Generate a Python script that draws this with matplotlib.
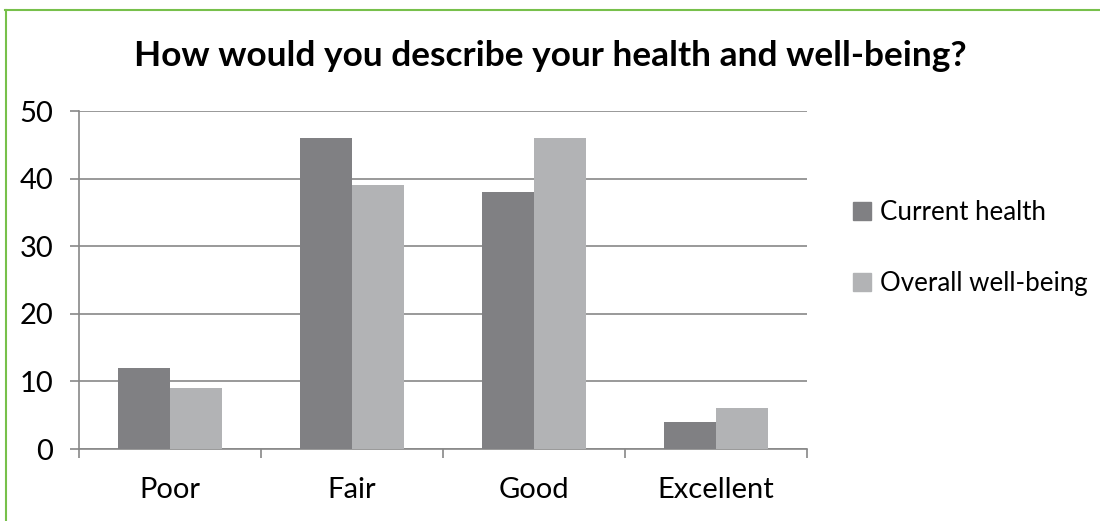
import numpy as np
import matplotlib.pyplot as plt
from matplotlib.lines import Line2D
from matplotlib.patches import Patch

categories = ['Poor', 'Fair', 'Good', 'Excellent']
current_health = [12, 46, 38, 4]
overall_wellbeing = [9, 39, 46, 6]

plt.rcParams['font.family'] = ['Lato', 'DejaVu Sans']

fig = plt.figure(figsize=(11, 5.21), dpi=100)
ax = fig.add_axes([79/1100, 1 - 449/521, 728/1100, 338/521])

x = np.arange(len(categories))
w = 0.285
ax.bar(x - w/2, current_health, w, color='#808083', zorder=3)
ax.bar(x + w/2, overall_wellbeing, w, color='#b2b3b5', zorder=3)

ax.set_xlim(-0.5, 3.5)
ax.set_ylim(0, 50)
ax.set_yticks(range(0, 51, 10))
ax.yaxis.grid(True, color='#888888', linewidth=1.2, zorder=0)
for s in ['top', 'right']:
    ax.spines[s].set_visible(False)
for s in ['left', 'bottom']:
    ax.spines[s].set_color('#888888')
    ax.spines[s].set_linewidth(1.2)

ax.set_xticks(x)
ax.set_xticklabels(categories)
ax.set_xticks(np.arange(-0.5, 4, 1), minor=True)
ax.tick_params(axis='x', which='major', length=0, pad=20, labelsize=21)
ax.tick_params(axis='x', which='minor', length=6.5, width=1.2, color='#888888')
ax.tick_params(axis='y', length=6.5, width=1.2, color='#888888', labelsize=21, pad=12)

fig.text(0.5, 1 - 56/521, 'How would you describe your health and well-being?',
         ha='center', va='center', fontsize=25.4, fontweight='bold')

handles = [Patch(color='#808083', label='Current health'),
           Patch(color='#b2b3b5', label='Overall well-being')]
fig.legend(handles=handles, loc='center left', bbox_to_anchor=(830/1100, 1 - 248/521),
           frameon=False, fontsize=18.6, handlelength=0.7, handleheight=0.7,
           handletextpad=0.35, labelspacing=1.75)

fig.add_artist(Line2D([5/1100, 1], [1 - 9.5/521, 1 - 9.5/521], color='#77c04b', linewidth=1.5))
fig.add_artist(Line2D([5.5/1100, 5.5/1100], [0, 1 - 9.5/521], color='#77c04b', linewidth=1.5))

fig.savefig('out.png', dpi=100)
